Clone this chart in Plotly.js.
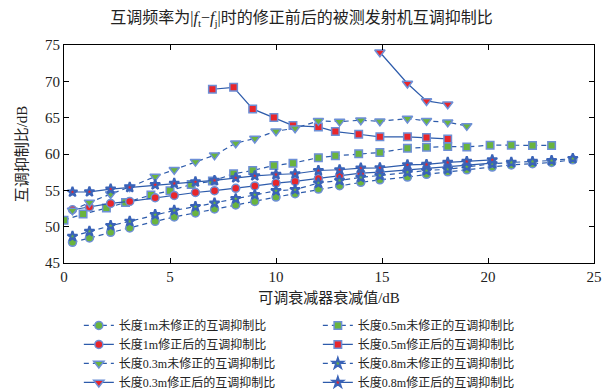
<!DOCTYPE html>
<html>
<head>
<meta charset="utf-8">
<script src="https://cdn.plot.ly/plotly-3.0.1.min.js"></script>
<style>html,body{margin:0;padding:0;background:#fff;}#chart{width:603px;height:392px;}</style>
</head>
<body>
<div id="chart"></div>
<script>
// shared attenuation values (dB)
const xCommon = [0.4, 1.2, 2.2, 3.1, 4.3, 5.2, 6.2, 7.1, 8.1, 9.0, 10.0, 10.9, 12.0, 13.0, 14.0, 14.9, 16.2, 17.1, 18.1, 19.0, 20.2, 21.1, 22.1, 23.0, 24.0];
const x05 = [0, 0.9, 2.0, 2.9, 4.1, 5.0, 6.0, 7.0, 8.0, 8.9, 9.9, 10.8, 12.0, 12.8, 13.9, 14.9, 16.2, 17.1, 18.1, 19.0, 20.1, 21.1, 22.1, 23.0];
const x05fix = [7.0, 8.0, 8.9, 9.9, 10.8, 12.0, 12.8, 13.9, 14.9, 16.2, 17.1, 18.1];
const x03fix = [14.9, 16.2, 17.1, 18.1];

const y1mRaw = [47.85, 48.45, 49.22, 49.82, 50.73, 51.33, 51.88, 52.43, 52.98, 53.48, 54.08, 54.53, 55.17, 55.63, 56.1, 56.45, 56.82, 57.2, 57.55, 57.83, 58.2, 58.5, 58.66, 58.84, 59.2];
const y1mFix = [52.33, 52.7, 53.2, 53.48, 53.98, 54.3, 54.7, 54.95, 55.27, 55.6, 56.0, 56.23, 56.64, 57.0, 57.37, 57.5, 57.8, 58.0, 58.3, 58.5, 58.75];
const y03Raw = [52.24, 53.34, 54.49, 55.45, 56.9, 57.83, 58.95, 59.84, 61.49, 62.13, 63.14, 63.55, 64.56, 64.46, 64.65, 64.5, 64.88, 64.56, 64.37, 63.87];
const y03Fix = [74.0, 69.7, 67.3, 66.85];
const y05Raw = [50.9, 51.74, 52.56, 53.34, 54.35, 54.95, 55.8, 56.27, 57.28, 57.73, 58.42, 58.74, 59.5, 59.75, 60.02, 60.2, 60.8, 60.94, 61.03, 60.98, 61.21, 61.21, 61.17, 61.17];
const y05Fix = [68.91, 69.18, 66.2, 65.01, 63.91, 63.73, 63.09, 62.72, 62.36, 62.36, 62.27, 62.08];
const y08Raw = [48.67, 49.36, 50.14, 50.73, 51.65, 52.24, 52.75, 53.25, 53.85, 54.4, 54.95, 55.1, 56.0, 56.36, 56.78, 57.05, 57.5, 57.73, 57.9, 58.25, 58.65, 58.84, 58.97, 59.1, 59.38];
const y08Fix = [54.77, 54.8, 55.17, 55.4, 55.77, 55.95, 56.16, 56.36, 56.73, 57.0, 57.18, 57.28, 57.73, 57.83, 58.06, 58.1, 58.5, 58.56, 58.84, 58.97, 59.2];

const names = {
  m1Raw: '长度1m未修正的互调抑制比',
  m1Fix: '长度1m修正后的互调抑制比',
  m03Raw: '长度0.3m未修正的互调抑制比',
  m03Fix: '长度0.3m修正后的互调抑制比',
  m05Raw: '长度0.5m未修正的互调抑制比',
  m05Fix: '长度0.5m修正后的互调抑制比',
  m08Raw: '长度0.8m未修正的互调抑制比',
  m08Fix: '长度0.8m修正后的互调抑制比'
};

const LINE = '#2d5bab';
const EDGE = '#6d8fd6';
const GREEN = '#6ab43e';
const RED = '#e8262b';

function tr(x, y, name, dashed, symbol, fill, size, edgeW, edgeC) {
  return {
    x: x, y: y.slice(0, x.length), name: name, type: 'scatter', mode: 'lines+markers',
    line: {color: LINE, width: 1.2, dash: dashed ? '5px,4px' : 'solid'},
    marker: {symbol: symbol, color: fill, size: size, line: {color: edgeC || EDGE, width: edgeW || 1.5}}
  };
}

const data = [
  tr(xCommon.slice(0, y1mRaw.length), y1mRaw, names.m1Raw, true, 'circle', GREEN, 8),
  tr(x05, y05Raw, names.m05Raw, true, 'square', GREEN, 7.5),
  tr(xCommon.slice(0, y1mFix.length), y1mFix, names.m1Fix, false, 'circle', RED, 8),
  tr(x05fix, y05Fix, names.m05Fix, false, 'square', RED, 7.5),
  tr(xCommon.slice(0, y03Raw.length), y03Raw, names.m03Raw, true, 'triangle-down', GREEN, 9),
  tr(xCommon.slice(0, y08Raw.length), y08Raw, names.m08Raw, true, 'star', GREEN, 7.5, 2, '#3a63b8'),
  tr(x03fix, y03Fix, names.m03Fix, false, 'triangle-down', RED, 9),
  tr(xCommon.slice(0, y08Fix.length), y08Fix, names.m08Fix, false, 'star', RED, 7.5, 2, '#3a63b8')
];

const FONT = 'Liberation Serif, Times New Roman, Noto Sans CJK SC, serif';

const layout = {
  width: 603, height: 392,
  margin: {l: 64, r: 9, t: 45, b: 129, autoexpand: false},
  paper_bgcolor: '#fff', plot_bgcolor: '#fff',
  font: {family: FONT, size: 15, color: '#222'},
  title: {
    text: '互调频率为|<i>f</i><sub>t</sub>−<i>f</i><sub>j</sub>|时的修正前后的被测发射机互调抑制比',
    font: {family: FONT, size: 16, color: '#222'},
    x: 0.5, xanchor: 'center', y: 0.955, yanchor: 'middle'
  },
  xaxis: {
    range: [0, 25], dtick: 5, tick0: 0,
    showgrid: false, zeroline: false, showline: true, linecolor: '#000', linewidth: 1,
    mirror: 'ticks', ticks: 'inside', ticklen: 5, tickcolor: '#000',
    tickfont: {family: FONT, size: 15, color: '#222'},
    title: {text: '可调衰减器衰减值/dB', font: {family: FONT, size: 15, color: '#222'}, standoff: 8}
  },
  yaxis: {
    range: [45, 75], dtick: 5, tick0: 45,
    showgrid: false, zeroline: false, showline: true, linecolor: '#000', linewidth: 1,
    mirror: 'ticks', ticks: 'inside', ticklen: 5, tickcolor: '#000',
    tickfont: {family: FONT, size: 15, color: '#222'},
    title: {text: '互调抑制比/dB', font: {family: FONT, size: 15, color: '#222'}, standoff: 13}
  },
  showlegend: true,
  legend: {
    orientation: 'h', x: 0.028, xanchor: 'left', y: -0.22, yanchor: 'top',
    entrywidth: 194, entrywidthmode: 'pixels',
    font: {family: FONT, size: 12, color: '#222'},
    bgcolor: 'rgba(0,0,0,0)', itemwidth: 30, tracegroupgap: 0,
    traceorder: 'normal'
  }
};

Plotly.newPlot('chart', data, layout, {displayModeBar: false, staticPlot: true});
</script>
</body>
</html>
